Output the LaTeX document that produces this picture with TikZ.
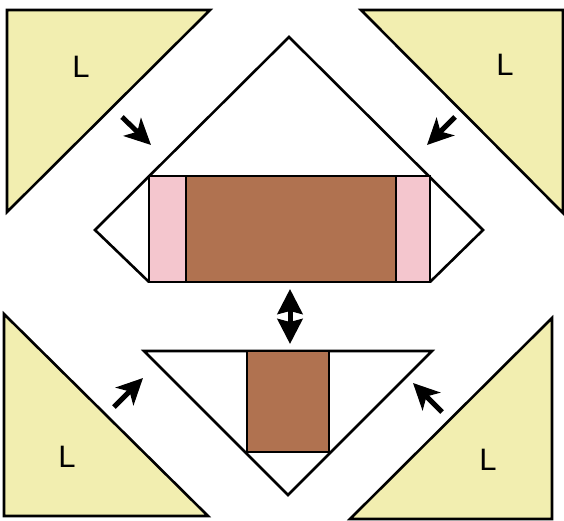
\documentclass[tikz,border=0pt]{standalone}
\usepackage{fontspec}
\setmainfont{Liberation Sans}
\usetikzlibrary{positioning,arrows.meta}
\definecolor{lyellow}{RGB}{242,238,176}
\definecolor{bodybrown}{RGB}{176,114,80}
\definecolor{capink}{RGB}{244,198,206}

\begin{document}
\begin{tikzpicture}[x=1pt,y=-1pt,line width=2.6pt,line join=miter]
 \tikzset{corner/.style={draw,fill=lyellow},
          lbl/.style={font=\fontsize{31}{34}\selectfont},
          push/.style={line width=5pt,-{Stealth[length=26pt,width=25pt,inset=7pt]}},
          swap/.style={line width=5pt,{Stealth[length=25pt,width=25pt,inset=3pt]}-{Stealth[length=25pt,width=25pt,inset=3pt]}}}
 \useasboundingbox (0,0) rectangle (564,521);

 % corner triangles
 \draw[corner] (7,10) -- (210,10) -- (7,212) -- cycle;
 \draw[corner] (361,10) -- (563,10) -- (563,213) -- cycle;
 \draw[corner] (4,314) -- (208,516) -- (4,516) -- cycle;
 \draw[corner] (552,318) -- (552,519) -- (350,519) -- cycle;
 \node[lbl] (Ltl) at (81,67) {L};
 \node[lbl] (Ltr) at (505,65) {L};
 \node[lbl] (Lbl) at (67,457) {L};
 \node[lbl] (Lbr) at (488,460) {L};

 % upper part
 \draw (149,282) -- (95,230) -- (289,37) -- (483,230) -- (430,282);
 \draw[fill=capink] (149,176) rectangle (186,282);
 \draw[fill=bodybrown] (186,176) rectangle (396,282);
 \draw[fill=capink] (396,176) rectangle (430,282);

 % lower part
 \draw (144,351) -- (432,351) -- (288,495) -- cycle;
 \draw[fill=bodybrown] (247,351) rectangle (329,452);

 % arrows
 \coordinate (a1) at (122,117); \coordinate (b1) at (151,145);
 \coordinate (a2) at (455,117); \coordinate (b2) at (427,145);
 \coordinate (a3) at (114,407); \coordinate (b3) at (143,378);
 \coordinate (a4) at (442,412); \coordinate (b4) at (413,383);
 \coordinate (up) at (290,289); \coordinate (dn) at (290,344);
 \draw[push] (a1) -- (b1);
 \draw[push] (a2) -- (b2);
 \draw[push] (a3) -- (b3);
 \draw[push] (a4) -- (b4);
 \draw[swap] (up) -- (dn);
\end{tikzpicture}
\end{document}
